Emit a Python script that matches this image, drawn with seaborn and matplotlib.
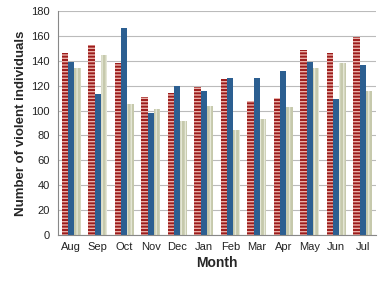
import numpy as np
import pandas as pd
import seaborn as sns
import matplotlib.pyplot as plt

months = ['Aug', 'Sep', 'Oct', 'Nov', 'Dec', 'Jan', 'Feb', 'Mar', 'Apr', 'May', 'Jun', 'Jul']
series_a = [146, 153, 138, 111, 114, 119, 125, 108, 110, 149, 146, 159]
series_b = [139, 113, 166, 98, 120, 116, 126, 126, 132, 139, 109, 137]
series_c = [134, 145, 105, 101, 92, 104, 84, 93, 103, 134, 138, 116]
series_names = ['Series 1', 'Series 2', 'Series 3']

df = pd.DataFrame({
    'Month': months * 3,
    'count': series_a + series_b + series_c,
    'series': [s for s in series_names for _ in months],
})

sns.set_style('white')
plt.rcParams['font.family'] = ['Liberation Sans', 'DejaVu Sans']
plt.rcParams['hatch.linewidth'] = 1.0

fig = plt.figure(figsize=(3.82, 2.86), dpi=100)
ax = fig.add_axes([58 / 382, 51 / 286, 318 / 382, 224 / 286])

palette = ['#9c1c1c', '#2c5f91', '#c6c9ac']
sns.barplot(data=df, x='Month', y='count', hue='series', palette=palette,
            order=months, hue_order=series_names, width=0.7, gap=0.0,
            saturation=1, ax=ax, legend=False)

# stripes like the excel pattern fills
hatches = ['-----', None, '||||']
hatch_cols = ['#eab0a8', None, '#e6e8d8']
for cont, h, hc in zip(ax.containers, hatches, hatch_cols):
    for bar in cont:
        bar.set_linewidth(0)
        if h:
            bar.set_hatch(h)
            bar.set_edgecolor(hc)

ax.set_ylim(0, 180)
ax.set_yticks(range(0, 181, 20))
ax.set_xlim(-0.5, 11.5)
ax.yaxis.grid(True, color='#bbbbbb', linewidth=0.8)
ax.set_axisbelow(True)

ax.set_xticks(np.arange(-0.5, 12), minor=True)
ax.tick_params(axis='x', which='major', length=0, labelsize=8, pad=5)
ax.tick_params(axis='x', which='minor', length=4, direction='out')
ax.tick_params(axis='y', length=4, direction='out', labelsize=8, pad=2)
ax.tick_params(axis='both', which='both', color='#888888', labelcolor='#222222')

for s in ['top', 'right']:
    ax.spines[s].set_visible(False)
for s in ['left', 'bottom']:
    ax.spines[s].set_color('#888888')
    ax.spines[s].set_linewidth(0.8)

ax.set_xlabel('Month', fontsize=10, fontweight='bold', labelpad=3)
ax.set_ylabel('Number of violent individuals', fontsize=9.5, fontweight='bold', labelpad=3)

fig.savefig('out.png', dpi=100)
